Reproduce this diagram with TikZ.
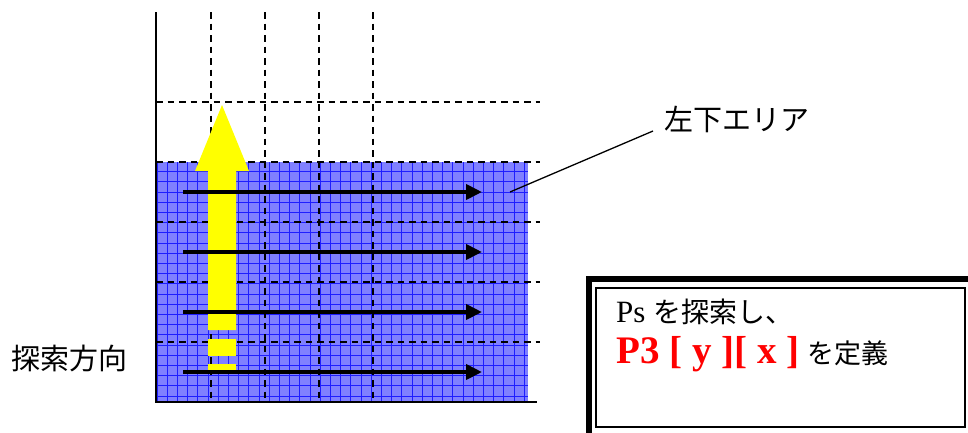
\documentclass[tikz,border=0pt]{standalone}
\usepackage{fontspec}
\setmainfont{Liberation Serif}
\newfontfamily\jp{Noto Sans CJK JP}
\usetikzlibrary{arrows.meta}
\definecolor{areablue}{RGB}{128,128,255}
\definecolor{gridblue}{RGB}{30,30,255}
\definecolor{yel}{RGB}{255,255,0}
\tikzset{
  gridline/.style={gridblue, line width=0.9pt},
  dashline/.style={black, line width=1.5pt, dash pattern=on 6.5pt off 5pt},
  axisline/.style={black, line width=2pt},
  scanarrow/.style={black, line width=3.8pt, -{Triangle[length=16pt,width=15pt]}},
  leader/.style={black, line width=1.3pt},
  jplabel/.style={inner sep=0pt, font=\jp\fontsize{29}{32}\selectfont},
}
\begin{document}
\begin{tikzpicture}[x=1pt,y=-1pt]
\useasboundingbox (0,0) rectangle (968,432);

% blue lower-left area with grid
\fill[areablue] (156,162) rectangle (528,402);
\begin{scope}
  \clip (156,162) rectangle (528,402);
  \foreach \i in {0,...,37} \draw[gridline] ({157+\i*10.2},162) -- ({157+\i*10.2},402);
  \foreach \j in {0,...,24} \draw[gridline] (156,{161.5+\j*10.2}) -- (528,{161.5+\j*10.2});
\end{scope}

% dashed grid
\foreach \x in {211,265,319,373} \draw[dashline] (\x,12) -- (\x,400);
\foreach \y in {102,162,222,282,342} \draw[dashline] (156,\y) -- (540,\y);

% yellow search-direction arrow
\fill[yel] (208,330) -- (208,171) -- (195,171) -- (222,105) -- (249,171) -- (236,171) -- (236,330) -- cycle;
\fill[yel] (208,339) rectangle (236,356);
\fill[yel] (208,364) rectangle (236,370);

% axes
\draw[axisline] (156,12) -- (156,402) -- (537,402);

% scan arrows
\foreach \k/\y in {1/192,2/252,3/312,4/372} {
  \coordinate (s\k) at (183,\y);
  \coordinate (e\k) at (482,\y);
  \draw[scanarrow] (s\k) -- (e\k);
}

% labels
\node[jplabel, anchor=west] (area) at (664,119) {左下エリア};
\coordinate (lp) at (510,192);
\coordinate (lq) at (653,131);
\draw[leader] (lp) -- (lq);

\node[jplabel, anchor=west] (dir) at (11,358) {探索方向};

% double-framed box
\draw[line width=6pt] (589,279) rectangle (975,438);
\draw[line width=2pt] (596,288) rectangle (965,427);

\node[anchor=base west, inner sep=0pt] (t1) at (616,322)
  {\fontsize{31}{34}\selectfont Ps {\jp\fontsize{28}{32}\selectfont を探索し、}};
\node[anchor=base west, inner sep=0pt, text=red] (t2) at (616,363)
  {\fontsize{39}{42}\selectfont\bfseries P3 [ y ][ x ]};
\node[anchor=base west, inner sep=0pt] (t3) at ([xshift=8pt]t2.base east)
  {\jp\fontsize{27}{30}\selectfont を定義};
\end{tikzpicture}
\end{document}
